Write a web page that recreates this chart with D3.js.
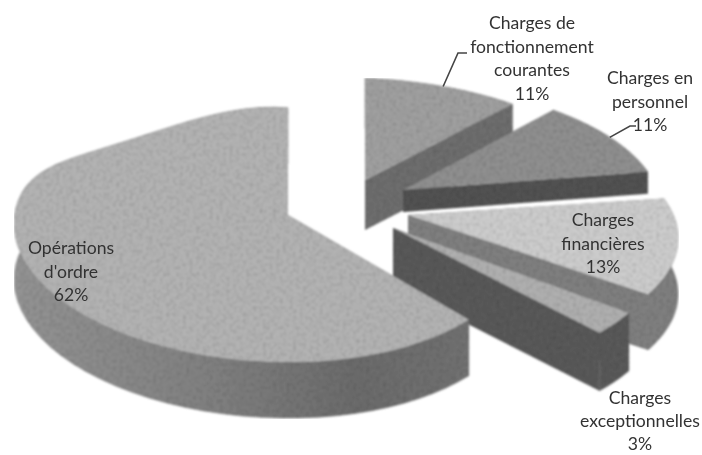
<!DOCTYPE html>
<html>
<head>
<meta charset="utf-8">
<script src="https://cdn.jsdelivr.net/npm/d3@7"></script>
<style>
  html, body { margin: 0; padding: 0; background: #fff; }
  svg { display: block; }
  .slice-label { font-family: Lato, "Open Sans", sans-serif; font-size: 17.6px; fill: #333; text-anchor: middle; }
  .leader { fill: none; stroke: #444; stroke-width: 1.6; }
</style>
</head>
<body>
<svg id="chart" width="702" height="455"></svg>
<script>
// Data, clockwise from 12 o'clock
const categories = ["Charges de fonctionnement courantes", "Charges en personnel", "Charges financières", "Charges exceptionnelles", "Opérations d'ordre"];
const percents = [11, 11, 13, 3, 62];

// Label text is wrapped by hand like in the original
const labelLines = [
  ["Charges de", "fonctionnement", "courantes", "11%"],
  ["Charges en", "personnel", "11%"],
  ["Charges", "financières", "13%"],
  ["Charges", "exceptionnelles", "3%"],
  ["Opérations", "d'ordre", "62%"]
];

// Layout of each exploded slice: apex, scale, tilt and thickness
const layout = [
  { cx: 365, cy: 180, sx: 1.08, sy: 0.95, tilt: 3, flat: 0, depth: 50, top: "#a0a0a0", side: "#6e6e6e", label: [532, 23], lh: 23.5 },
  { cx: 403, cy: 190, sx: 1.1, sy: 1.0, tilt: 3, flat: 0, depth: 22, top: "#909090", side: "#525252", label: [650, 78], lh: 23.5 },
  { cx: 408, cy: 215, sx: 1.15, sy: 1.0, tilt: 5, flat: 0, depth: 56, top: "#cdcdcd", side: "#808080", label: [603, 220], lh: 23.5 },
  { cx: 393, cy: 228, sx: 1.13, sy: 1.0, tilt: 12, flat: 0, depth: 58, top: "#b0b0b0", side: "#5a5a5a", label: [640, 398], lh: 23 },
  { cx: 288, cy: 215, sx: 0.99, sy: 1.0, tilt: 12, flat: 75, depth: 56, top: "#b4b4b4", side: "url(#mainSide)", label: [71, 248], lh: 23.5 }
];
const drawOrder = [0, 2, 1, 3, 4];
const leaders = { 0: [[458, 53], [467, 53]], 1: [[630, 126], [636, 126]] };

const svg = d3.select("#chart");

// Soft scan look: some grain, then blur
const defs = svg.append("defs");
const grain = defs.append("filter").attr("id", "scan").attr("x", 0).attr("y", 0).attr("width", 1).attr("height", 1);
grain.append("feTurbulence").attr("type", "fractalNoise").attr("baseFrequency", 0.3).attr("numOctaves", 2).attr("seed", 4).attr("result", "noise");
grain.append("feColorMatrix").attr("in", "noise").attr("type", "matrix")
  .attr("values", "0 0 0 0 0  0 0 0 0 0  0 0 0 0 0  0 0 0 0.6 -0.24").attr("result", "dark");
grain.append("feComposite").attr("in", "dark").attr("in2", "SourceAlpha").attr("operator", "in").attr("result", "clipped");
grain.append("feMerge").call(m => {
  m.append("feMergeNode").attr("in", "SourceGraphic");
  m.append("feMergeNode").attr("in", "clipped");
});
grain.append("feGaussianBlur").attr("stdDeviation", 0.9);

const mainSide = defs.append("linearGradient").attr("id", "mainSide");
[[0, "#949494"], [0.45, "#808080"], [0.75, "#6c6c6c"], [1, "#727272"]].forEach(([o, c]) => {
  mainSide.append("stop").attr("offset", o).attr("stop-color", c);
});

const textBlur = defs.append("filter").attr("id", "textBlur");
textBlur.append("feGaussianBlur").attr("stdDeviation", 0.35);

const pie = d3.pie().sort(null).value(d => d);
const arcs = pie(percents);

// Perspective projection of the pie's disc onto the page
function project(l, angle) {
  const s = Math.sin(angle), c = Math.cos(angle);
  const d = 1 + 0.157 * c + 0.081 * s;
  // the scan's outline is flatter in the upper left quarter
  const flat = (s < 0 && c > 0) ? l.flat * s * s * c * c : 0;
  return [
    l.cx + l.sx * 251 * s / d,
    l.cy + l.sy * (-124 * c + l.tilt * s) / d + flat
  ];
}

const line = d3.line();
const pies = svg.append("g").attr("filter", "url(#scan)");

drawOrder.forEach(i => {
  const a = arcs[i], l = layout[i];
  const steps = d3.range(0, 61).map(t => a.startAngle + (a.endAngle - a.startAngle) * t / 60);
  const rim = steps.map(t => project(l, t));
  const g = pies.append("g").attr("class", "slice");
  const down = p => [p[0], p[1] + l.depth];

  // Back to front: first cut, outer wall, second cut, then the top face
  const apex = [l.cx, l.cy];
  const first = rim[0], last = rim[rim.length - 1];
  g.append("path").attr("fill", l.side)
    .attr("d", line([apex, first, down(first), down(apex)]) + "Z");
  g.append("path").attr("fill", l.side).attr("stroke", l.side).attr("stroke-width", 0.5)
    .attr("d", line(rim.concat(rim.map(down).reverse())) + "Z");
  g.append("path").attr("fill", i === 4 ? "#727272" : l.side)
    .attr("d", line([apex, last, down(last), down(apex)]) + "Z");
  g.append("path").attr("fill", l.top)
    .attr("d", line([apex].concat(rim)) + "Z");
});

// Leader lines start on the rim at the slice's mid angle
Object.keys(leaders).forEach(k => {
  const a = arcs[k];
  const start = project(layout[k], (a.startAngle + a.endAngle) / 2);
  svg.append("path").attr("class", "leader").attr("d", line([start].concat(leaders[k])));
});

// Labels
const labels = svg.append("g").attr("filter", "url(#textBlur)");
labelLines.forEach((lines, i) => {
  const [x, y] = layout[i].label;
  const t = labels.append("text").attr("class", "slice-label").attr("aria-label", categories[i]);
  lines.forEach((s, j) => {
    t.append("tspan").attr("x", x).attr("y", y + j * layout[i].lh + 6).text(s);
  });
});
</script>
</body>
</html>
